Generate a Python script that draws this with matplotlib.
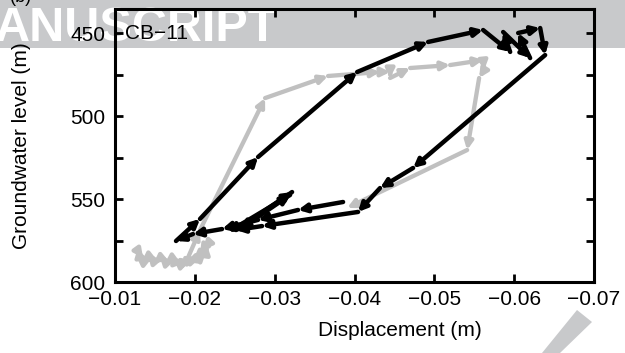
import numpy as np
import matplotlib.pyplot as plt
from matplotlib.patches import Rectangle, Polygon
from matplotlib.ticker import FixedLocator

plt.rcParams['font.family'] = ['Liberation Sans', 'DejaVu Sans']

# ==============================
# DATA  (displacement m, groundwater level m)
# ==============================

gray_x = [-0.01288, -0.01351, -0.01420, -0.01464, -0.01530, -0.01601, -0.01680,
          -0.01752, -0.01820, -0.01865, -0.01930, -0.01965, -0.02030, -0.02065,
          -0.02140, -0.02153, -0.02100, -0.02065, -0.01980, -0.01890, -0.02065,
          -0.02880, -0.03669, -0.04320, -0.04446, -0.04446, -0.04697, -0.05198,
          -0.05611, -0.05624, -0.05561, -0.05411, -0.03907]
gray_y = [581.3, 585.5, 586.5, 585.5, 587.0, 586.1, 587.8,
          586.7, 588.4, 588.6, 587.2, 586.7, 586.0, 585.5,
          581.9, 577.7, 580.5, 583.1, 586.5, 588.0, 568.7,
          489.2, 475.9, 473.5, 473.5, 477.1, 471.1, 469.3,
          466.3, 472.3, 477.1, 520.5, 555.4]

black_x = [-0.03857, -0.03293, -0.02792, -0.02341, -0.01977, -0.01764, -0.02065,
           -0.02792, -0.04033, -0.04922, -0.05611, -0.05950, -0.05862, -0.06200,
           -0.06050, -0.06326, -0.06388, -0.04734, -0.04320, -0.04045, -0.02842,
           -0.02516, -0.03218, -0.02566, -0.03193, -0.02416]
black_y = [551.8, 556.6, 562.6, 568.1, 571.1, 575.3, 562.0,
           524.7, 473.5, 455.4, 448.2, 461.4, 449.4, 465.1,
           450.0, 447.0, 463.3, 531.3, 543.4, 557.8, 566.3,
           568.7, 545.8, 568.1, 547.6, 569.9]

x_ticks = [-0.01, -0.02, -0.03, -0.04, -0.05, -0.06, -0.07]
y_ticks = [450, 500, 550, 600]
y_minor = [475, 525, 575]

# ==============================
# FIGURE
# ==============================

W, H = 625, 353
fig = plt.figure(figsize=(6.25, 3.53), dpi=100)

# watermark pieces behind everything
band = "#c8c9cb"
fig.patches.append(Rectangle((0, 1 - 48 / H), 1, 48 / H, transform=fig.transFigure,
                             facecolor=band, edgecolor="none", zorder=0))
fig.text(-0.008, 1 - 41 / H, "ANUSCRIPT", color="white", fontsize=35,
         fontweight="bold", ha="left", va="baseline", zorder=1)
fig.text(32 / W, 1 - 2 / H, "(b)", fontsize=13, ha="right", va="baseline")
fig.patches.append(Polygon([(577 / W, 1 - 310 / H), (592 / W, 1 - 322 / H),
                            (560 / W, 0.0), (542 / W, 0.0)],
                           closed=True, transform=fig.transFigure,
                           facecolor=band, edgecolor="none", zorder=0))

ax = fig.add_axes([115 / W, 1 - 282 / H, 479 / W, 273 / H])
ax.set_facecolor("none")
ax.set_zorder(2)


def draw_path(xs, ys, color, lw):
    for i in range(len(xs) - 1):
        ax.annotate("", xy=(xs[i + 1], ys[i + 1]), xytext=(xs[i], ys[i]),
                    arrowprops=dict(arrowstyle="-|>", color=color, lw=lw,
                                    mutation_scale=12, shrinkA=0, shrinkB=0))


draw_path(gray_x, gray_y, "#c0c0c0", 3.1)
draw_path(black_x, black_y, "black", 3.2)

ax.text(-0.0112, 450, "CB\u221211", fontsize=15, va="center", ha="left")

ax.set_xlim(-0.01, -0.07)
ax.set_ylim(600, 450 - 24 / 1.66)

ax.set_xticks(x_ticks)
ax.set_xticklabels(["\u2212%.2f" % abs(v) for v in x_ticks])
ax.set_yticks(y_ticks)
ax.yaxis.set_minor_locator(FixedLocator(y_minor))

ax.tick_params(which="both", direction="in", top=True, right=True,
               length=6, width=2, labelsize=15)
ax.tick_params(axis="x", pad=6)
ax.tick_params(axis="y", pad=7)

for s in ax.spines.values():
    s.set_linewidth(2.2)

ax.set_ylabel("Groundwater level (m)", fontsize=15)
ax.yaxis.set_label_coords(-0.176, 0.5)
fig.text(400 / W, 1 - 330 / H, "Displacement (m)", fontsize=15,
         ha="center", va="center")

fig.savefig("out.png", dpi=100)
